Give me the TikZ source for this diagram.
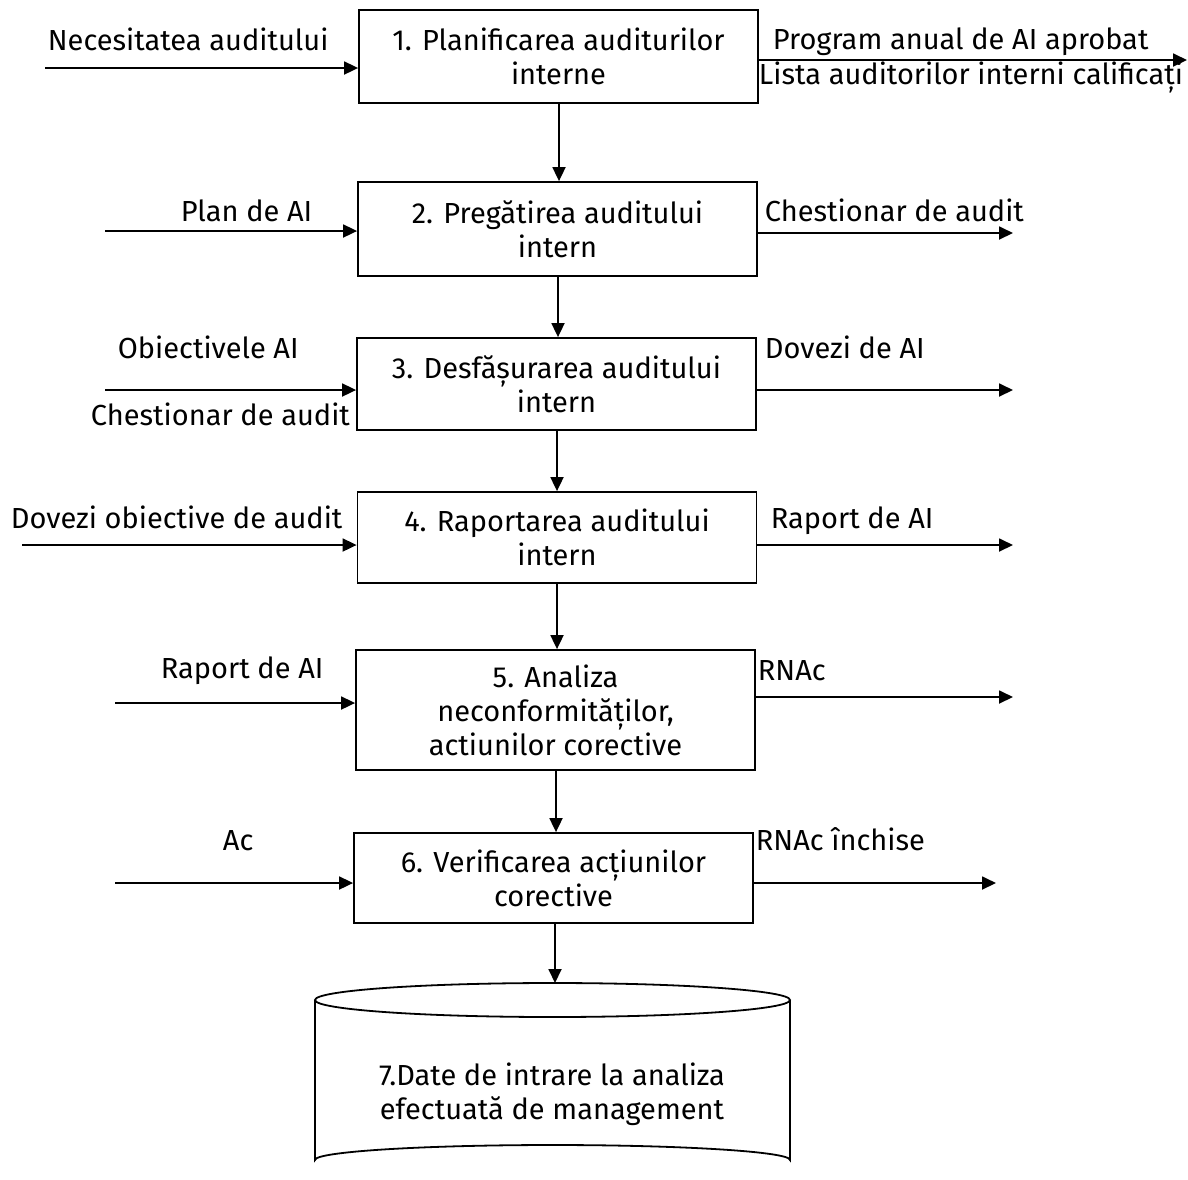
\documentclass[tikz,border=0pt]{standalone}
\usepackage{fontspec}
\setmainfont{Fira Sans}
\usetikzlibrary{arrows.meta}
\begin{document}
\begin{tikzpicture}[x=1pt,y=-1pt,
  font=\fontsize{29}{34}\selectfont,
  line width=1.8pt,
  proc/.style={draw, rectangle, minimum width=399pt, align=center, inner sep=0pt},
  lbl/.style={anchor=base west, inner sep=0pt},
  flow/.style={-{Triangle[length=14pt,width=13pt]}}
]
\useasboundingbox (0,0) rectangle (1188,1179);

% process steps
\node[proc, minimum height=93pt] (p1) at (558.5,56.5) {1. Planificarea auditurilor\\interne};
\node[proc, minimum height=94pt] (p2) at (557.5,229) {2. Pregătirea auditului\\intern};
\node[proc, minimum height=92pt] (p3) at (556.5,384) {3. Desfășurarea auditului\\intern};
\node[proc, minimum height=91pt] (p4) at (557,537.5) {4. Raportarea auditului\\intern};
\node[proc, minimum height=120pt] (p5) at (555.5,710) {5. Analiza\\neconformităților,\\actiunilor corective};
\node[proc, minimum height=90pt] (p6) at (553.5,878) {6. Verificarea acțiunilor\\corective};

% database cylinder
\draw (315,1000) arc[start angle=180, end angle=360, x radius=237.5, y radius=17]
      arc[start angle=0, end angle=180, x radius=237.5, y radius=17] -- cycle;
\draw (315,1000) -- (315,1160)
      arc[start angle=180, end angle=360, x radius=237.5, y radius=15] -- (790,1000);
\coordinate (dbtop) at (555,983);
\node[align=center, inner sep=0pt] (db) at (552,1094) {7.Date de intrare la analiza\\efectuată de management};

% main flow
\draw[flow] (p1.south -| 559,0) -- (p2.north -| 559,0);
\draw[flow] (p2.south -| 558,0) -- (p3.north -| 558,0);
\draw[flow] (p3.south -| 557,0) -- (p4.north -| 557,0);
\draw[flow] (p4.south -| 557,0) -- (p5.north -| 557,0);
\draw[flow] (p5.south -| 556,0) -- (p6.north -| 556,0);
\draw[flow] (p6.south -| 555,0) -- (dbtop);

% inputs
\coordinate (i1) at (45,68);
\coordinate (i2) at (105,231);
\coordinate (i3) at (105,390);
\coordinate (i4) at (22,545);
\coordinate (i5) at (115,703);
\coordinate (i6) at (115,883);
\draw[flow] (i1) -- (i1 -| p1.west);
\draw[flow] (i2) -- (i2 -| p2.west);
\draw[flow] (i3) -- (i3 -| p3.west);
\draw[flow] (i4) -- (i4 -| p4.west);
\draw[flow] (i5) -- (i5 -| p5.west);
\draw[flow] (i6) -- (i6 -| p6.west);

% outputs
\coordinate (o1) at (1187,60);
\coordinate (o2) at (1013,233);
\coordinate (o3) at (1013,390);
\coordinate (o4) at (1013,545);
\coordinate (o5) at (1013,697);
\coordinate (o6) at (996,883);
\draw[flow] (o1 -| p1.east) -- (o1);
\draw[flow] (o2 -| p2.east) -- (o2);
\draw[flow] (o3 -| p3.east) -- (o3);
\draw[flow] (o4 -| p4.east) -- (o4);
\draw[flow] (o5 -| p5.east) -- (o5);
\draw[flow] (o6 -| p6.east) -- (o6);

% input labels
\node[lbl] (l1) at (47,50) {Necesitatea auditului};
\node[lbl] (l2) at (180,221) {Plan de AI};
\node[lbl] (l3a) at (117,358) {Obiectivele AI};
\node[lbl] (l3b) at (90,425) {Chestionar de audit};
\node[lbl] (l4) at (10,528) {Dovezi obiective de audit};
\node[lbl] (l5) at (160,678) {Raport de AI};
\node[lbl] (l6) at (222,850) {Ac};

% output labels
\node[lbl] (r1a) at (772,49) {Program anual de AI aprobat};
\node[lbl] (r1b) at (758,84) {Lista auditorilor interni calificați};
\node[lbl] (r2) at (764,221) {Chestionar de audit};
\node[lbl] (r3) at (764,358) {Dovezi de AI};
\node[lbl] (r4) at (770,528) {Raport de AI};
\node[lbl] (r5) at (757,680) {RNAc};
\node[lbl] (r6) at (755,850) {RNAc închise};
\end{tikzpicture}
\end{document}
